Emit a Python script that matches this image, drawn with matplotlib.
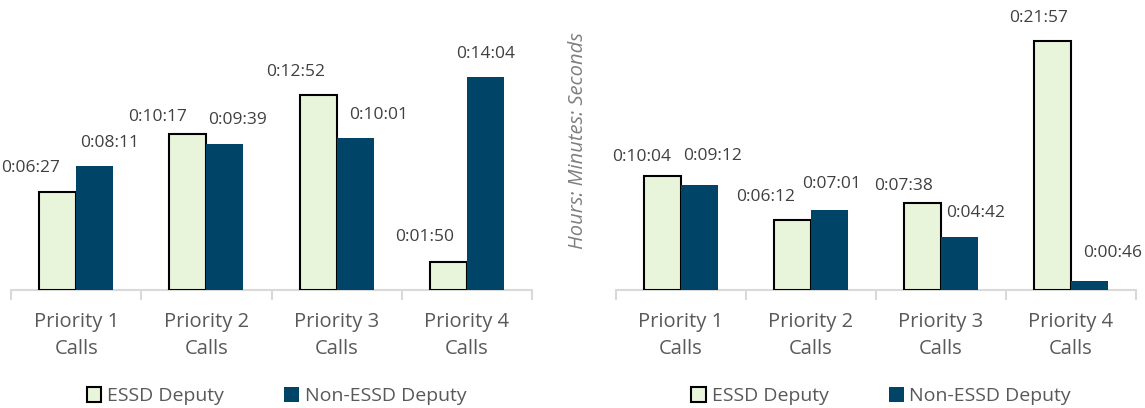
import matplotlib
matplotlib.use("Agg")
import matplotlib.pyplot as plt
from matplotlib.patches import Patch

plt.rcParams['font.family'] = ['Open Sans', 'DejaVu Sans']

# data (h:mm:ss)
categories = ['Priority 1\nCalls', 'Priority 2\nCalls', 'Priority 3\nCalls', 'Priority 4\nCalls']
series_names = ['ESSD Deputy', 'Non-ESSD Deputy']
left_essd = ['0:06:27', '0:10:17', '0:12:52', '0:01:50']
left_non = ['0:08:11', '0:09:39', '0:10:01', '0:14:04']
right_essd = ['0:10:04', '0:06:12', '0:07:38', '0:21:57']
right_non = ['0:09:12', '0:07:01', '0:04:42', '0:00:46']

# label nudges in pixels (dx, dy above bar top), as placed in the original
left_essd_off = [(-27, 24), (-30, 17), (-22, 23), (-24, 25)]
left_non_off = [(15, 23), (13, 24), (23, 23), (0, 23)]
right_essd_off = [(-21, 19), (-27, 23), (-19, 17), (-14, 23)]
right_non_off = [(13, 29), (2, 26), (16, 24), (23, 28)]

c_essd = '#E9F5DB'
c_non = '#004468'
grid_c = '#D9D9D9'
txt_c = '#595959'


def to_sec(s):
    h, m, sec = s.split(':')
    return int(h) * 3600 + int(m) * 60 + int(sec)


fig = plt.figure(figsize=(11.45, 4.08), dpi=100)
ax1 = fig.add_axes([11 / 1145, 118 / 408, 521 / 1145, 280 / 408])
ax2 = fig.add_axes([616 / 1145, 118 / 408, 520 / 1145, 280 / 408])

w = 0.285
x = list(range(len(categories)))


def draw(ax, essd, non, essd_off, non_off, ytop):
    ev = [to_sec(v) for v in essd]
    nv = [to_sec(v) for v in non]
    ax.bar([i - w / 2 for i in x], ev, w, color=c_essd, edgecolor='black', linewidth=1.5, zorder=3)
    ax.bar([i + w / 2 for i in x], nv, w, color=c_non, edgecolor='none', zorder=3)
    for i in x:
        for val, lab, off, xo in ((ev[i], essd[i], essd_off[i], -w / 2), (nv[i], non[i], non_off[i], w / 2)):
            ax.annotate(lab, (i + xo, val), xytext=off, textcoords='offset pixels',
                        ha='center', va='center', fontsize=12.5, color='#404040')
    ax.set_ylim(0, ytop)
    ax.set_xlim(-0.5, len(categories) - 0.5)
    ax.set_xticks(x)
    ax.set_xticklabels(categories, fontsize=14.5, color=txt_c, linespacing=1.52)
    ax.set_xticks([i - 0.5 for i in range(len(categories) + 1)], minor=True)
    ax.tick_params(axis='x', which='major', length=0, pad=15.5)
    ax.tick_params(axis='x', which='minor', length=7, color=grid_c, width=1.5)
    ax.set_yticks([])
    for s in ['left', 'right', 'top']:
        ax.spines[s].set_visible(False)
    ax.spines['bottom'].set_color(grid_c)
    ax.spines['bottom'].set_linewidth(1.5)
    handles = [Patch(facecolor=c_essd, edgecolor='black', linewidth=1.5),
               Patch(facecolor=c_non, edgecolor='none')]
    ax.legend(handles, series_names, loc='center', bbox_to_anchor=(0.51, -0.38), ncol=2,
              frameon=False, fontsize=14, labelcolor=txt_c, handlelength=0.75, handleheight=0.75,
              handletextpad=0.3, columnspacing=3.1)


draw(ax1, left_essd, left_non, left_essd_off, left_non_off, 1109)
draw(ax2, right_essd, right_non, right_essd_off, right_non_off, 1479)

ax2.set_ylabel('Hours: Minutes: Seconds', fontsize=14.5, style='italic', color='#7F7F7F')
ax2.yaxis.set_label_coords(-28 / 520, 0.532)

fig.savefig('out.png', dpi=100)
